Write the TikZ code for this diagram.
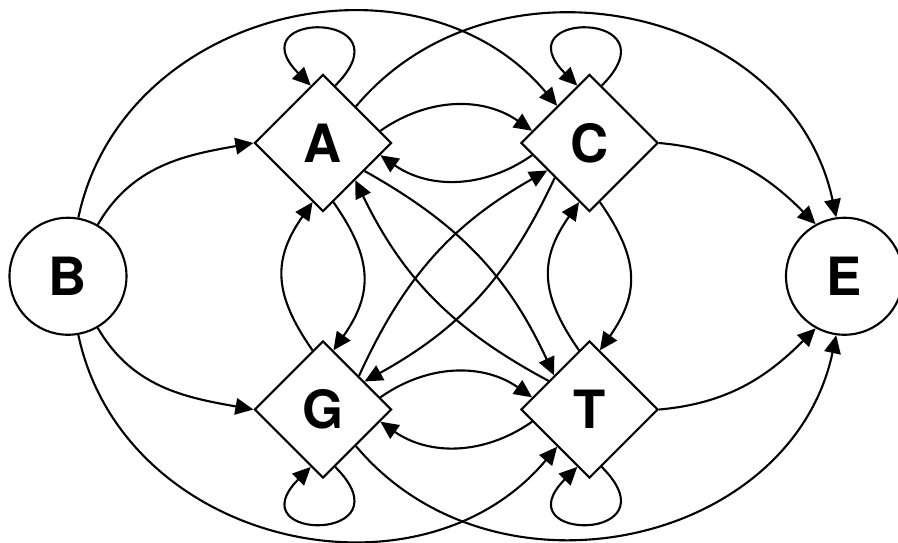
\documentclass[tikz,border=0pt]{standalone}
\usepackage{fontspec}
\setmainfont{TeX Gyre Heros}
\usetikzlibrary{arrows.meta,shapes.geometric}

\begin{document}
\begin{tikzpicture}[->,>={Triangle[length=0.36cm,width=0.33cm]},line width=1.2pt,node distance=5.33cm,
main node/.style={diamond,draw,minimum size=2.74cm,inner sep=0pt,font=\bfseries\fontsize{30}{30}\selectfont},
end node/.style={circle,draw,minimum size=2.34cm,inner sep=0pt,font=\bfseries\fontsize{30}{30}\selectfont}]

\useasboundingbox (-6.46,2.86) rectangle (11.5,-7.98);

\node[main node] (1) {A};
\node[main node] (2) [right of=1] {C};
\node[main node] (3) [below of=1] {G};
\node[main node] (4) [right of=3] {T};
\node[end node] (5) [below of=1,node distance=2.665cm,xshift=-5.1cm] {B};
\node[end node] (6) [below of=2,node distance=2.665cm,xshift=5.1cm] {E};

%from B
\path
(5.60) edge [out=60,in=190] (1.180)
(5.-60) edge [out=-60,in=170] (3.180)
(5.80) edge [out=78,in=130,looseness=1.12] (2.131)
(5.-80) edge [out=-78,in=-130,looseness=1.12] (4.-131);

%into E
\path
(2.0) edge [out=-5,in=135] (6.119)
(4.0) edge [out=5,in=-135] (6.-119)
(1.48) edge [out=50,in=102,looseness=1.12] (6.98)
(3.-48) edge [out=-50,in=-102,looseness=1.12] (6.-98);

%horizontal lines
\path
(1.12) edge [bend left=35] (2.168)
(2.-168) edge [bend left=35] (1.-12)
(3.12) edge [bend left=35] (4.168)
(4.-168) edge [bend left=35] (3.-12);

%vertical
\path
(1.-80) edge [bend left=35,looseness=1.2] (3.80)
(3.100) edge [bend left=35,looseness=1.2] (1.-100)
(2.-80) edge [bend left=35,looseness=1.2] (4.80)
(4.100) edge [bend left=35,looseness=1.2] (2.-100);

%diagonal lines
\path
(1.-34) edge [bend left=18] (4.136)
(4.145) edge [bend left=18] (1.-49)
(3.43) edge [bend left=18] (2.213)
(2.225) edge [bend left=18] (3.34);

\path
(1.78) edge [out=45,in=135,distance=2.14cm] (1.102);
\path
(2.78) edge [out=45,in=135,distance=2.14cm] (2.102);
\path
(3.-78) edge [out=-45,in=-135,distance=2.14cm] (3.-102);
\path
(4.-78) edge [out=-45,in=-135,distance=2.14cm] (4.-102);

\end{tikzpicture}
\end{document}
